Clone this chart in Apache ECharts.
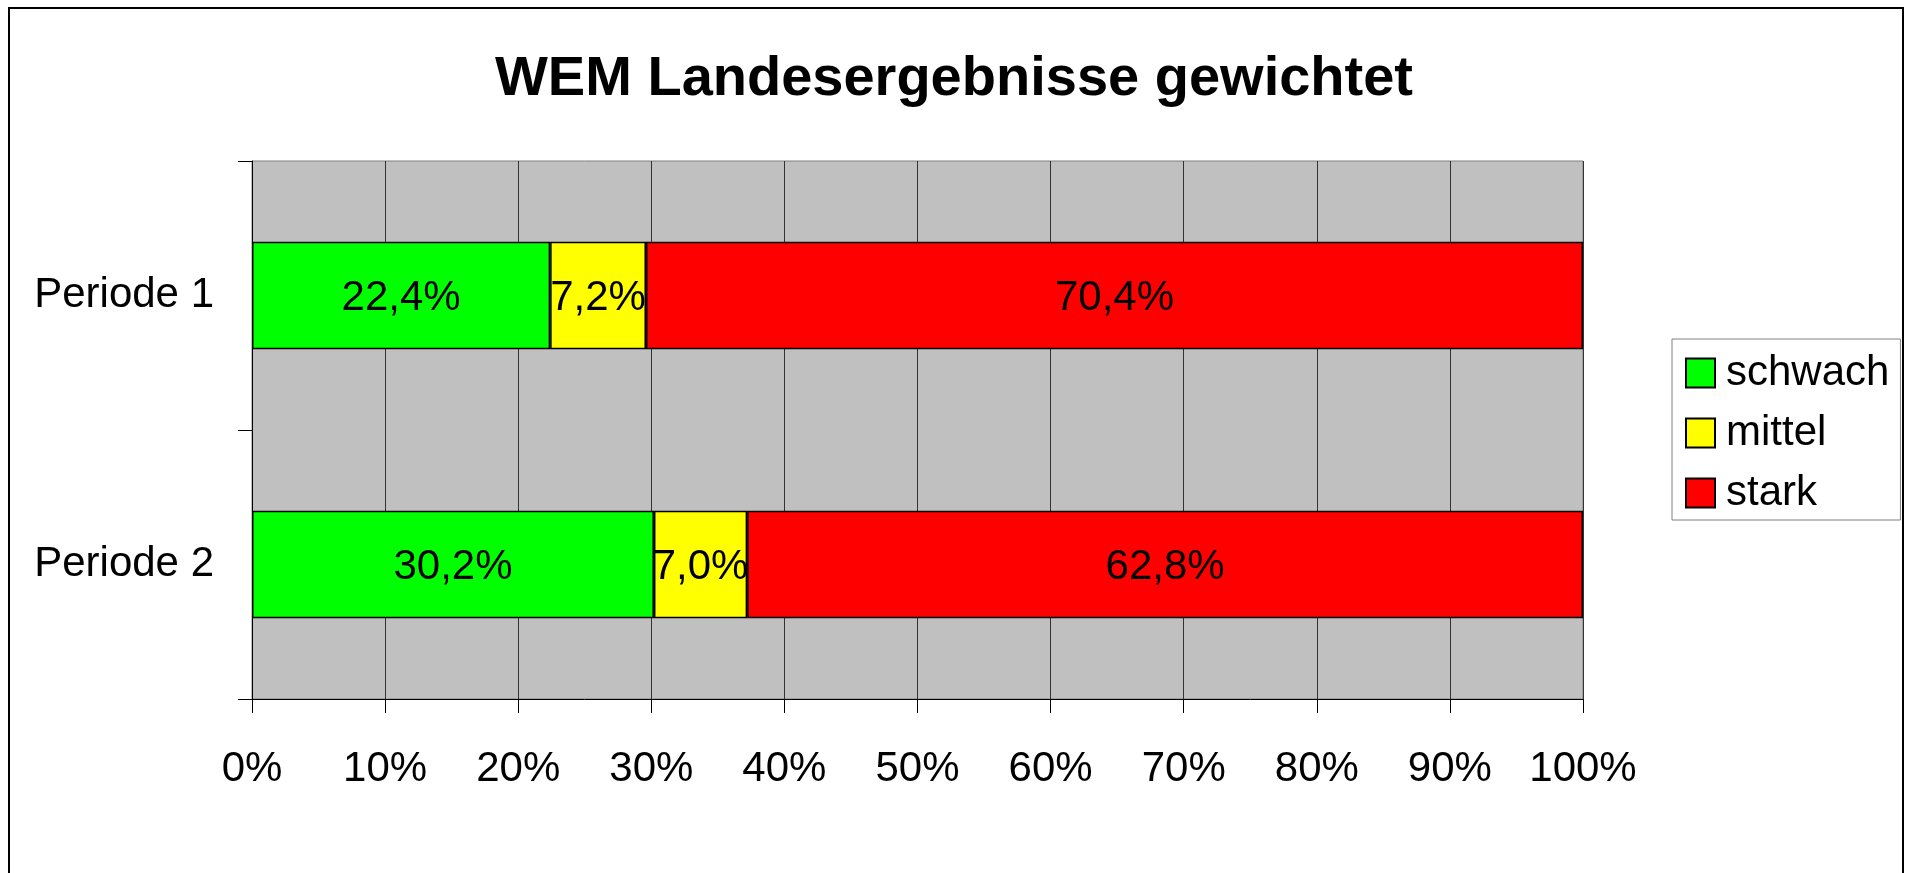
<!DOCTYPE html>
<html>
<head>
<meta charset="utf-8">
<script src="https://cdn.jsdelivr.net/npm/echarts@6/dist/echarts.min.js"></script>
<style>
  html, body { margin: 0; padding: 0; background: #fff; }
  #chart { width: 1908px; height: 873px; }
</style>
</head>
<body>
<div id="chart"></div>
<script>
// data
const categories = ['Periode 1', 'Periode 2'];
const schwach = [22.4, 30.2];
const mittel = [7.2, 7.0];
const stark = [70.4, 62.8];
const seriesNames = ['schwach', 'mittel', 'stark'];
const colors = ['#00FF00', '#FFFF00', '#FF0000'];

const font = '"Liberation Sans", Arial, sans-serif';

function pct(p) {
  return p.value.toFixed(1).replace('.', ',') + '%';
}

function makeSeries(name, data, color) {
  return {
    name: name,
    type: 'bar',
    stack: 'total',
    barWidth: '40%',
    data: data,
    itemStyle: { color: color, borderColor: '#000', borderWidth: 1.5 },
    label: {
      show: true,
      position: 'inside',
      offset: [0, 3],
      formatter: pct,
      color: '#000',
      fontFamily: font,
      fontSize: 42
    },
    emphasis: { disabled: true }
  };
}

const chart = echarts.init(document.getElementById('chart'));
chart.setOption({
  animation: false,
  textStyle: { fontFamily: font },
  title: {
    text: 'WEM Landesergebnisse gewichtet',
    left: 'center',
    top: 47,
    textStyle: { fontFamily: font, fontSize: 56, fontWeight: 'bold', color: '#000' }
  },
  legend: {
    orient: 'vertical',
    left: 1672,
    top: 339,
    padding: [13, 11, 6, 13],
    itemWidth: 29,
    itemHeight: 29,
    itemGap: 18,
    icon: 'rect',
    backgroundColor: '#fff',
    borderColor: '#808080',
    borderWidth: 1,
    borderRadius: 0,
    textStyle: { fontFamily: font, fontSize: 42, lineHeight: 42, color: '#000', padding: [0, 0, 0, 6] },
    data: seriesNames
  },
  grid: {
    left: 252,
    right: 325,
    top: 161,
    bottom: 174,
    show: true,
    backgroundColor: '#C0C0C0',
    borderColor: '#808080',
    borderWidth: 1
  },
  xAxis: {
    type: 'value',
    min: 0,
    max: 100,
    interval: 10,
    axisLine: { show: true, lineStyle: { color: '#000', width: 1 } },
    axisTick: { show: true, length: 14, lineStyle: { color: '#000' } },
    axisLabel: { formatter: '{value}%', fontSize: 42, color: '#000', margin: 49, fontFamily: font },
    splitLine: { show: true, lineStyle: { color: '#333', width: 1 } }
  },
  yAxis: {
    type: 'category',
    inverse: true,
    data: categories,
    axisLine: { show: true, lineStyle: { color: '#000', width: 1 } },
    axisTick: { show: true, length: 14, lineStyle: { color: '#000' } },
    axisLabel: { fontSize: 42, color: '#000', margin: 38, fontFamily: font, padding: [6, 0, 0, 0] },
    splitLine: { show: false }
  },
  series: [
    makeSeries(seriesNames[0], schwach, colors[0]),
    makeSeries(seriesNames[1], mittel, colors[1]),
    makeSeries(seriesNames[2], stark, colors[2])
  ],
  graphic: [{
    type: 'rect',
    silent: true,
    shape: { x: 9, y: 8, width: 1894, height: 900 },
    style: { fill: 'none', stroke: '#000', lineWidth: 2 }
  }]
});
</script>
</body>
</html>
